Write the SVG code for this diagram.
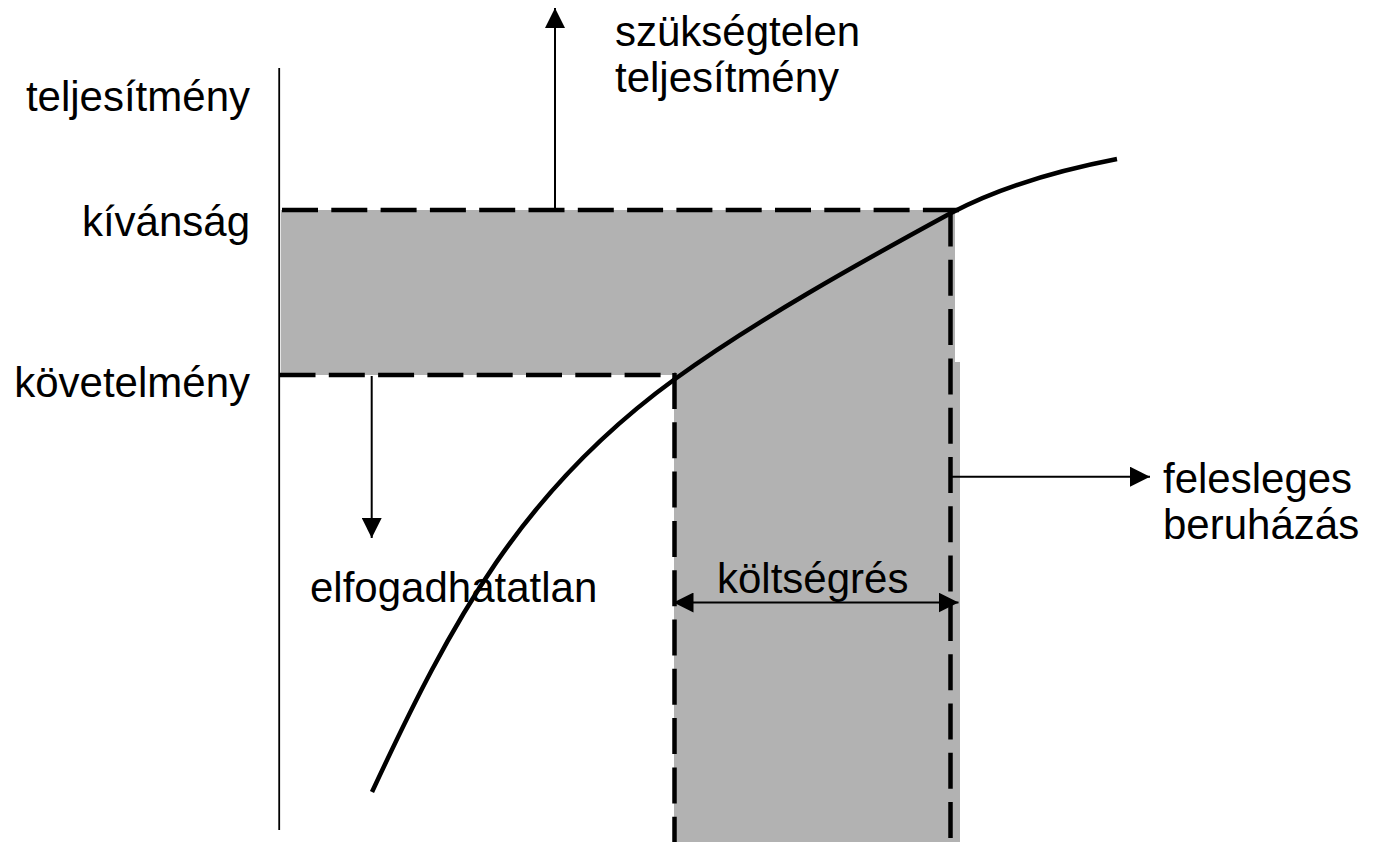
<svg xmlns="http://www.w3.org/2000/svg" width="1386" height="842" viewBox="0 0 1386 842">
<style>
.lbl{font-family:"Liberation Sans",Arial,sans-serif;font-size:42px;fill:#000}
.dash{fill:none;stroke:#000;stroke-width:4.5;stroke-dasharray:36 13.3}
.arr{fill:none;stroke:#000;stroke-width:2}
</style>
<defs>
<marker id="ah" markerUnits="userSpaceOnUse" markerWidth="20" markerHeight="20" refX="20" refY="10" orient="auto-start-reverse" viewBox="0 0 20 20">
<path d="M0,0 L20,10 L0,20 z" fill="#000"/>
</marker>
</defs>
<rect width="1386" height="842" fill="#fff"/>
<g id="area">
<polygon points="281,210 955,210 955,362 960,362 960,842 674,842 674,375 281,375" fill="#b2b2b2"/>
</g>
<g id="axis">
<line x1="279.2" y1="68" x2="279.2" y2="830" stroke="#000" stroke-width="1.8"/>
</g>
<g id="levels">
<line class="dash" x1="282" y1="210" x2="959" y2="210"/>
<line class="dash" x1="279.5" y1="375" x2="676" y2="375"/>
<line class="dash" x1="674.5" y1="373" x2="674.5" y2="842"/>
<line class="dash" x1="950.5" y1="210.5" x2="950.5" y2="842"/>
</g>
<g id="curve">
<path d="M372,792 C452,620 522,490 675,379 C755,321 859,263 951,213 C1002,186 1060,170 1117,159" fill="none" stroke="#000" stroke-width="4.5"/>
</g>
<g id="connectors">
<line class="arr" x1="555" y1="209" x2="555" y2="8" marker-end="url(#ah)"/>
<line class="arr" x1="371.7" y1="376" x2="371.7" y2="538" marker-end="url(#ah)"/>
<line class="arr" x1="952" y1="476.7" x2="1150" y2="476.7" marker-end="url(#ah)"/>
<line class="arr" x1="673.5" y1="602.5" x2="958.5" y2="602.5" marker-start="url(#ah)" marker-end="url(#ah)"/>
</g>
<g id="label-teljesitmeny"><text class="lbl" x="250" y="111" text-anchor="end">teljesítmény</text></g>
<g id="label-kivansag"><text class="lbl" x="250" y="236" text-anchor="end">kívánság</text></g>
<g id="label-kovetelmeny"><text class="lbl" x="250" y="397" text-anchor="end">követelmény</text></g>
<g id="label-szuksegtelen"><text class="lbl" x="615" y="46">szükségtelen</text><text class="lbl" x="615" y="92">teljesítmény</text></g>
<g id="label-felesleges"><text class="lbl" x="1163" y="493">felesleges</text><text class="lbl" x="1163" y="539">beruházás</text></g>
<g id="label-elfogadhatatlan"><text class="lbl" x="310" y="602">elfogadhatatlan</text></g>
<g id="label-koltsegres"><text class="lbl" x="717" y="593">költségrés</text></g>
</svg>
